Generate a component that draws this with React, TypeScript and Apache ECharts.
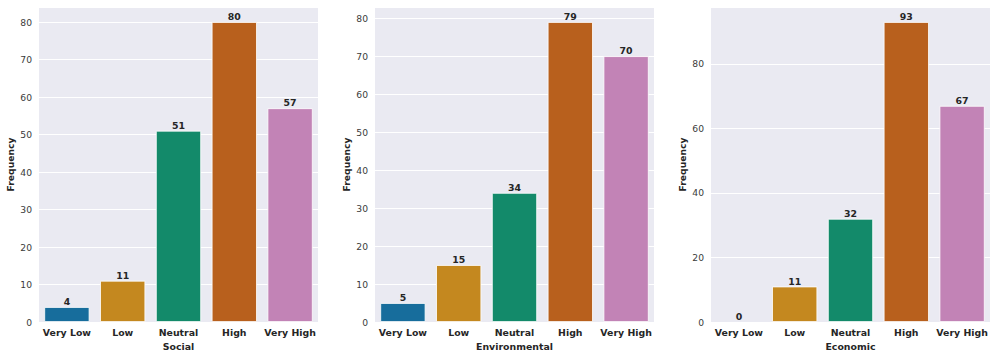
import React, { useEffect, useRef } from "react";
import * as echarts from "echarts";

const categories = ["Very Low", "Low", "Neutral", "High", "Very High"];
const socialValues = [4, 11, 51, 80, 57];
const environmentalValues = [5, 15, 34, 79, 70];
const economicValues = [0, 11, 32, 93, 67];
const panelNames = ["Social", "Environmental", "Economic"];
const barColors = ["#176d9c", "#c4881f", "#138a6a", "#b8601d", "#c283b6"];

export default function App() {
  const ref = useRef<HTMLDivElement>(null);
  useEffect(() => {
    document.body.style.margin = "0";
    if (!ref.current) return;
    const chart = echarts.init(ref.current, undefined, { renderer: "svg" });
    const panels = [socialValues, environmentalValues, economicValues];
    const lefts = [39, 375, 711];
    const intervals = [10, 10, 20];
    const textColor = "#262626";
    const font = "DejaVu Sans";
    const grid = lefts.map((l) => ({
      left: l,
      top: 7,
      width: 279,
      height: 315,
      show: true,
      backgroundColor: "#eaeaf2",
      borderWidth: 0,
    }));
    const xAxis = panels.map((_, i) => ({
      type: "category",
      gridIndex: i,
      data: categories,
      name: panelNames[i],
      nameLocation: "middle",
      nameGap: 18,
      nameTextStyle: { fontFamily: font, fontSize: 9.4, fontWeight: "bold", color: textColor },
      axisLine: { show: false },
      axisTick: { show: false },
      axisLabel: {
        interval: 0,
        margin: 6,
        fontFamily: font,
        fontSize: 9.4,
        fontWeight: "bold",
        color: textColor,
      },
    }));
    const yAxis = panels.map((vals, i) => ({
      type: "value",
      gridIndex: i,
      min: 0,
      max: Math.max(...vals) * 1.05,
      interval: intervals[i],
      name: "Frequency",
      nameLocation: "middle",
      nameGap: 24,
      nameTextStyle: { fontFamily: font, fontSize: 9.2, fontWeight: "bold", color: textColor },
      axisLine: { show: false },
      axisTick: { show: false },
      splitLine: { show: true, lineStyle: { color: "#ffffff", width: 1 } },
      axisLabel: {
        showMaxLabel: false,
        margin: 7,
        fontFamily: font,
        fontSize: 9.2,
        color: "#3a3a3a",
      },
    }));
    const series = panels.map((vals, i) => ({
      type: "bar",
      xAxisIndex: i,
      yAxisIndex: i,
      barCategoryGap: "19%",
      data: vals.map((v, j) => ({
        value: v,
        itemStyle: { color: barColors[j], borderWidth: v === 0 ? 0 : 0.8 },
      })),
      itemStyle: { borderColor: "#ffffff", borderWidth: 0.8 },
      label: {
        show: true,
        position: "top",
        distance: 1,
        fontFamily: font,
        fontSize: 9.4,
        fontWeight: "bold",
        color: textColor,
      },
    }));
    chart.setOption({
      animation: false,
      backgroundColor: "#ffffff",
      grid,
      xAxis,
      yAxis,
      series,
    });
    return () => chart.dispose();
  }, []);
  return <div ref={ref} style={{ width: 997, height: 358 }} />;
}
